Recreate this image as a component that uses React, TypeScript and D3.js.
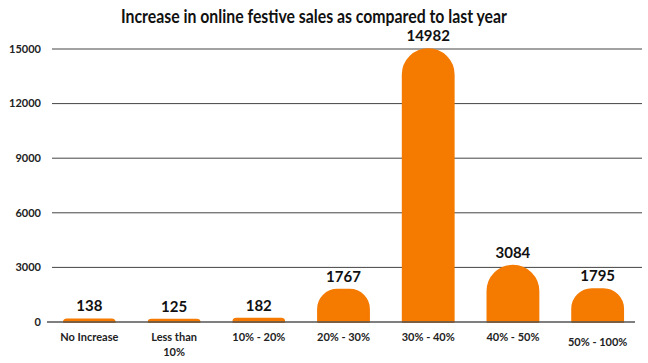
import * as d3 from 'd3'
import {useRef, useLayoutEffect} from "react";

const categories = ['No Increase', 'Less than 10%', '10% - 20%', '20% - 30%', '30% - 40%', '40% - 50%', '50% - 100%']
const values = [138, 125, 182, 1767, 14982, 3084, 1795]
const tickValues = [0, 3000, 6000, 9000, 12000, 15000]
const title = 'Increase in online festive sales as compared to last year'

const App = () => {
  const svgRef = useRef<SVGSVGElement>(null);

  const width = 648;
  const height = 363;
  const left = 47;
  const right = 640;
  const top = 49;
  const bottom = 322;
  const orange = '#f57a00';
  const font = 'Lato, "Open Sans", sans-serif';

  useLayoutEffect(() => {
    const svg = d3.select(svgRef.current)
    svg.selectAll('*').remove()

    const xScale = d3.scaleBand()
      .domain(categories)
      .range([left, right])
      .paddingInner(0.4)
      .paddingOuter(0.2)

    const yScale = d3.scaleLinear()
      .domain([0, 15000])
      .range([bottom, top])

    svg.append('text')
      .attr('x', 314)
      .attr('y', 23)
      .attr('text-anchor', 'middle')
      .attr('font-family', font)
      .attr('font-weight', 'bold')
      .attr('font-size', 18)
      .attr('textLength', 386)
      .attr('lengthAdjust', 'spacingAndGlyphs')
      .attr('fill', '#111')
      .text(title)

    // gridlines + y labels
    const grid = svg.append('g')
    grid.selectAll('line')
      .data(tickValues.filter(t => t > 0))
      .join('line')
      .attr('x1', 52)
      .attr('x2', 642)
      .attr('y1', d => yScale(d))
      .attr('y2', d => yScale(d))
      .attr('stroke', '#444')
      .attr('stroke-width', 1)

    grid.selectAll('text')
      .data(tickValues)
      .join('text')
      .attr('x', 41)
      .attr('y', d => yScale(d))
      .attr('dy', '0.35em')
      .attr('text-anchor', 'end')
      .attr('font-family', font)
      .attr('font-weight', 'bold')
      .attr('font-size', 11)
      .attr('fill', '#222')
      .text(d => d)

    const bw = xScale.bandwidth()
    // rounded top: elliptical corners, full half-round once the bar is tall enough
    const barPath = (c: string, v: number) => {
      const x0 = xScale(c)!
      const y0 = yScale(v)
      const h = bottom - y0
      const rx = Math.min(bw / 2, Math.max(h * 0.6, 3))
      const ry = Math.min(rx, h)
      return `M${x0},${bottom}L${x0},${y0 + ry}`
        + `A${rx},${ry} 0 0 1 ${x0 + rx},${y0}`
        + `L${x0 + bw - rx},${y0}`
        + `A${rx},${ry} 0 0 1 ${x0 + bw},${y0 + ry}`
        + `L${x0 + bw},${bottom}Z`
    }

    svg.append('g')
      .selectAll('path')
      .data(categories)
      .join('path')
      .attr('d', (c, i) => barPath(c, values[i]))
      .attr('fill', orange)
      .attr('stroke', orange)
      .attr('stroke-width', 2)
      .attr('stroke-linejoin', 'round')

    // zero axis
    svg.append('line')
      .attr('x1', 47)
      .attr('x2', 635)
      .attr('y1', bottom)
      .attr('y2', bottom)
      .attr('stroke', '#555')
      .attr('stroke-width', 1.5)

    svg.append('g')
      .selectAll('text')
      .data(categories)
      .join('text')
      .attr('x', (c) => xScale(c)! + bw / 2)
      .attr('y', (c, i) => yScale(values[i]) - 8)
      .attr('text-anchor', 'middle')
      .attr('font-family', font)
      .attr('font-weight', 'bold')
      .attr('font-size', 15)
      .attr('fill', '#111')
      .text((c, i) => values[i])

    const labels = svg.append('g')
      .selectAll('text')
      .data(categories)
      .join('text')
      .attr('x', (c) => xScale(c)! + bw / 2)
      .attr('y', (c, i) => i === 6 ? 346 : 341)
      .attr('text-anchor', 'middle')
      .attr('font-family', font)
      .attr('font-weight', 'bold')
      .attr('font-size', 11)
      .attr('fill', '#222')

    labels.each(function (c) {
      const t = d3.select(this)
      const parts = c === 'Less than 10%' ? ['Less than', '10%'] : [c]
      parts.forEach((s, j) => {
        t.append('tspan')
          .attr('x', xScale(c)! + bw / 2)
          .attr('dy', j === 0 ? 0 : 15)
          .text(s)
      })
    })
  }, [])

  return (
    <svg ref={svgRef} width={width} height={height} viewBox={`0 0 ${width} ${height}`}
         style={{position: 'absolute', left: 0, top: 0, background: '#fff'}}/>
  )
}

export default App;
